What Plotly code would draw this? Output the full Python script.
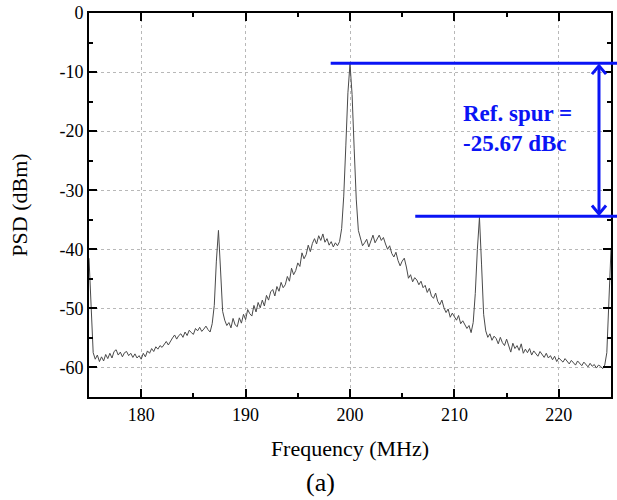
import plotly.graph_objects as go

# ---- data (0.2 MHz sampling from 175 MHz) ----
freq_start_mhz = 175.0
freq_step_mhz = 0.2
psd_dbm = [
    -41.5, -50.0, -57.5, -58.6, -57.9, -59.0, -58.2, -58.9, -57.8, -58.5,   # 175.0 - 176.8
    -57.6, -58.4, -57.3, -57.0, -57.9, -57.4, -58.2, -57.5, -57.3, -58.0,   # 177.0 - 178.8
    -57.6, -58.3, -57.7, -58.4, -58.0, -58.6, -57.6, -58.2, -57.2, -57.6,   # 179.0 - 180.8
    -56.8, -57.3, -56.5, -56.9, -56.3, -56.6, -56.1, -55.6, -56.2, -55.5,   # 181.0 - 182.8
    -55.0, -54.5, -55.2, -54.6, -54.3, -54.9, -54.0, -54.6, -53.7, -54.1,   # 183.0 - 184.8
    -54.4, -53.4, -53.8, -53.2, -53.9, -53.5, -53.0, -53.6, -54.0, -52.6,   # 185.0 - 186.8
    -49.5, -42.0, -36.8, -43.5, -50.5, -52.0, -52.9, -52.4, -53.3, -51.7,   # 187.0 - 188.8
    -52.8, -53.1, -51.6, -52.5, -51.0, -51.9, -50.2, -50.9, -51.3, -49.5,   # 189.0 - 190.8
    -50.6, -49.0, -49.9, -48.6, -49.6, -47.8, -48.6, -47.2, -46.8, -47.9,   # 191.0 - 192.8
    -46.3, -47.1, -45.6, -46.5, -46.0, -44.6, -45.4, -43.2, -44.3, -43.6,   # 193.0 - 194.8
    -42.3, -42.9, -40.6, -41.6, -40.9, -39.3, -40.4, -39.0, -38.2, -39.1,   # 195.0 - 196.8
    -37.7, -38.5, -37.4, -38.8, -38.2, -39.3, -38.7, -39.6, -38.9, -39.4,   # 197.0 - 198.8
    -38.7, -36.5, -31.0, -22.5, -13.5, -8.6, -13.8, -23.0, -31.5, -36.8,    # 199.0 - 200.8
    -38.2, -39.4, -38.9, -38.3, -39.6, -38.4, -37.6, -38.9, -38.3, -37.6,   # 201.0 - 202.8
    -38.5, -38.0, -39.1, -40.0, -39.4, -40.7, -41.3, -40.5, -41.9, -42.8,   # 203.0 - 204.8
    -42.0, -41.5, -43.0, -44.9, -44.3, -45.5, -44.8, -45.2, -46.0, -45.4,   # 205.0 - 206.8
    -46.5, -46.1, -47.3, -46.6, -47.9, -48.3, -47.4, -48.8, -49.4, -48.6,   # 207.0 - 208.8
    -49.9, -50.7, -50.1, -51.5, -50.8, -51.3, -52.0, -51.2, -52.6, -52.1,   # 209.0 - 210.8
    -52.7, -53.4, -52.9, -54.1, -52.4, -47.5, -40.0, -34.6, -42.5, -51.0,   # 211.0 - 212.8
    -53.8, -54.9, -54.3, -55.4, -54.7, -55.1, -56.0, -54.9, -55.8, -56.3,   # 213.0 - 214.8
    -55.2, -56.4, -57.4, -55.9, -56.8, -56.3, -57.1, -56.0, -57.6, -56.9,   # 215.0 - 216.8
    -57.5, -56.8, -57.9, -57.2, -57.7, -58.1, -57.3, -57.9, -58.3, -57.6,   # 217.0 - 218.8
    -58.4, -58.0, -58.7, -58.1, -59.0, -58.4, -58.7, -59.1, -58.5, -58.9,   # 219.0 - 220.8
    -59.4, -58.8, -59.2, -59.6, -58.9, -59.4, -59.7, -59.1, -59.5, -59.9,   # 221.0 - 222.8
    -59.3, -59.8, -59.5, -60.1, -59.6, -59.8, -60.2, -59.6, -57.5, -50.0,   # 223.0 - 224.8
    -40.0,                                                                   # 225.0
]
freq_mhz = [round(freq_start_mhz + freq_step_mhz * i, 1) for i in range(len(psd_dbm))]

x_ticks = [180, 190, 200, 210, 220]
y_ticks = [0, -10, -20, -30, -40, -50, -60]

carrier_level_dbm = -8.5
spur_level_dbm = -34.4
annotation_lines = ["Ref. spur =", "-25.67 dBc"]

SERIF = "Liberation Serif"
BLUE = "#0a14f5"

fig = go.Figure()
fig.add_trace(go.Scatter(
    x=freq_mhz, y=psd_dbm, mode="lines",
    line=dict(color="#4a4a4a", width=1),
    showlegend=False, hoverinfo="skip",
))

# reference level lines (horizontal)
fig.add_shape(type="line", xref="paper", yref="y",
              x0=0.463, x1=1.02, y0=carrier_level_dbm, y1=carrier_level_dbm,
              line=dict(color=BLUE, width=3))
fig.add_shape(type="line", xref="paper", yref="y",
              x0=0.625, x1=1.02, y0=spur_level_dbm, y1=spur_level_dbm,
              line=dict(color=BLUE, width=3))

# double-headed arrow
ax = 0.977
tip_top = carrier_level_dbm - 0.45
tip_bot = spur_level_dbm + 0.4
dx, dy = 0.0135, 1.4
fig.add_shape(type="line", xref="paper", yref="y",
              x0=ax, x1=ax, y0=tip_top, y1=tip_bot,
              line=dict(color=BLUE, width=3))
fig.add_shape(type="path", xref="paper", yref="y",
              path=f"M {ax-dx},{tip_top-dy} L {ax},{tip_top} L {ax+dx},{tip_top-dy}",
              line=dict(color=BLUE, width=3))
fig.add_shape(type="path", xref="paper", yref="y",
              path=f"M {ax-dx},{tip_bot+dy} L {ax},{tip_bot} L {ax+dx},{tip_bot+dy}",
              line=dict(color=BLUE, width=3))

fig.add_annotation(
    xref="paper", yref="paper", x=0.713, y=0.698, xanchor="left", yanchor="middle",
    text="<br>".join(annotation_lines), showarrow=False, align="left",
    font=dict(family=SERIF, size=23, color=BLUE, weight="bold"),
)

fig.add_annotation(
    xref="paper", yref="paper", x=0.443, y=-0.222, xanchor="center", yanchor="middle",
    text="(a)", showarrow=False,
    font=dict(family=SERIF, size=26, color="black"),
)

axis_common = dict(
    showline=True, linecolor="black", linewidth=2, mirror="ticks",
    ticks="inside", ticklen=8, tickwidth=2, tickcolor="black",
    showgrid=True, gridcolor="#b8b8b8", gridwidth=1, griddash="dot",
    zeroline=False,
    tickfont=dict(family=SERIF, size=18, color="black"),
)

fig.update_xaxes(
    range=[175, 225], tickmode="array", tickvals=x_ticks,
    ticktext=[str(v) for v in x_ticks],
    minor=dict(dtick=5, tick0=175, ticks="inside", ticklen=4, tickwidth=2,
               tickcolor="black", showgrid=False),
    title=dict(text="Frequency (MHz)", font=dict(family=SERIF, size=22, color="black"),
               standoff=17),
    **axis_common,
)
fig.update_yaxes(
    range=[-65, 0], tickmode="array", tickvals=y_ticks,
    ticktext=[str(v) for v in y_ticks],
    minor=dict(dtick=5, tick0=0, ticks="inside", ticklen=4, tickwidth=2,
               tickcolor="black", showgrid=False),
    title=dict(text="PSD (dBm)", font=dict(family=SERIF, size=22, color="black"),
               standoff=26),
    **axis_common,
)

fig.update_layout(
    width=617, height=500,
    margin=dict(l=89, r=6, t=13, b=103, autoexpand=False),
    paper_bgcolor="white", plot_bgcolor="white",
)

fig.write_html("out.html", config={"displayModeBar": False},
               post_script="document.body.style.margin='0';")
